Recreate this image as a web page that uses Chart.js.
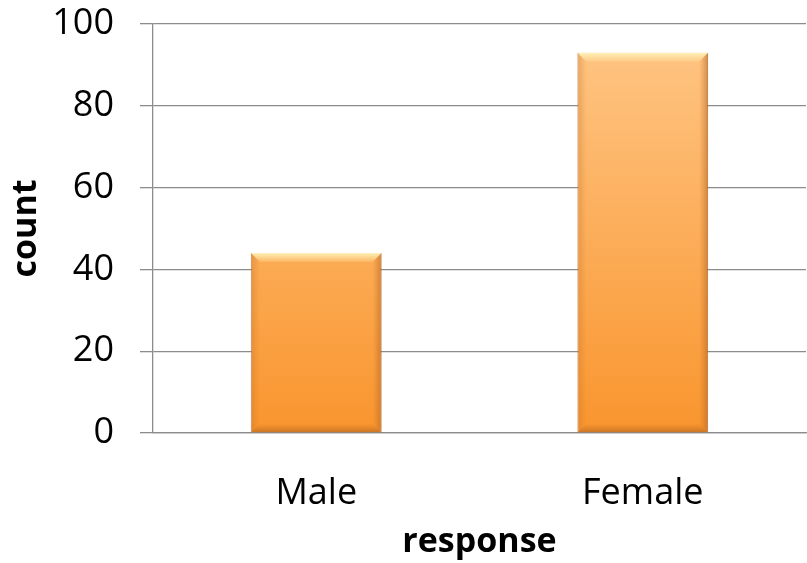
<!DOCTYPE html>
<html>
<head>
<meta charset="utf-8">
<script src="https://cdn.jsdelivr.net/npm/chart.js@4"></script>
<style>
  html, body { margin: 0; padding: 0; background: #fff; }
  #wrap { width: 807px; height: 563px; }
</style>
</head>
<body>
<div id="wrap"><canvas id="chart"></canvas></div>
<script>
// ─── Data ────────────────────────────────────────────────
const categories = ['Male', 'Female'];
const counts     = [44, 93];
const yTicks     = [0, 20, 40, 60, 80, 100];

const gridColor = '#8c8c8c';
const font = 'Open Sans';

// vertical orange gradient, light at top
function barFill(ctx) {
  const area = ctx.chart.chartArea;
  if (!area) return '#fdb062';
  const g = ctx.chart.ctx.createLinearGradient(0, area.top, 0, area.bottom);
  g.addColorStop(0, '#ffc787');
  g.addColorStop(1, '#f9952e');
  return g;
}

// ─── Bevel look on the bars ──────────────────────────────
const bevel = {
  id: 'bevel',
  afterDatasetsDraw(chart) {
    const c = chart.ctx;
    chart.getDatasetMeta(0).data.forEach(bar => {
      const l = bar.x - bar.width / 2, r = bar.x + bar.width / 2;
      const t = bar.y, b = bar.base, d = 9;
      c.save();
      // top highlight
      let g = c.createLinearGradient(0, t, 0, t + d);
      g.addColorStop(0, 'rgba(255,245,190,0.95)');
      g.addColorStop(1, 'rgba(255,235,170,0.2)');
      c.fillStyle = g;
      c.beginPath(); c.moveTo(l, t); c.lineTo(r, t); c.lineTo(r - d, t + d); c.lineTo(l + d, t + d); c.closePath(); c.fill();
      // right dark edge
      g = c.createLinearGradient(r, 0, r - d, 0);
      g.addColorStop(0, 'rgba(170,95,30,0.55)');
      g.addColorStop(1, 'rgba(200,110,30,0)');
      c.fillStyle = g;
      c.beginPath(); c.moveTo(r, t); c.lineTo(r, b); c.lineTo(r - d, b - d); c.lineTo(r - d, t + d); c.closePath(); c.fill();
      // left edge
      g = c.createLinearGradient(l, 0, l + d, 0);
      g.addColorStop(0, 'rgba(190,110,40,0.35)');
      g.addColorStop(1, 'rgba(200,110,30,0)');
      c.fillStyle = g;
      c.beginPath(); c.moveTo(l, t); c.lineTo(l, b); c.lineTo(l + d, b - d); c.lineTo(l + d, t + d); c.closePath(); c.fill();
      // bottom edge
      g = c.createLinearGradient(0, b, 0, b - d);
      g.addColorStop(0, 'rgba(160,90,30,0.55)');
      g.addColorStop(1, 'rgba(200,110,30,0)');
      c.fillStyle = g;
      c.beginPath(); c.moveTo(l, b); c.lineTo(r, b); c.lineTo(r - d, b - d); c.lineTo(l + d, b - d); c.closePath(); c.fill();
      c.restore();
    });
  }
};

new Chart(document.getElementById('chart'), {
  type: 'bar',
  data: {
    labels: categories,
    datasets: [{
      data: counts,
      backgroundColor: barFill,
      borderColor: 'rgba(200,120,50,0.6)',
      borderWidth: 1,
      categoryPercentage: 1,
      barPercentage: 0.4
    }]
  },
  options: {
    responsive: true, maintainAspectRatio: false, animation: false,
    layout: { padding: { top: 24, right: 1, left: 6, bottom: 0 } },
    plugins: { legend: { display: false }, tooltip: { enabled: false } },
    scales: {
      y: {
        min: 0, max: 100,
        afterBuildTicks: axis => { axis.ticks = yTicks.map(v => ({ value: v })); },
        afterFit: axis => { axis.width = 147; axis.paddingTop = 0; axis.paddingBottom = 0; },
        grid: { color: gridColor, lineWidth: 1.3, tickLength: 13 },
        border: { color: gridColor, width: 1.3 },
        ticks: { color: '#000', padding: 26, font: { family: font, size: 36 } },
        title: { display: true, text: 'count', color: '#000', padding: 0, font: { family: font, size: 34, weight: 'bold' } }
      },
      x: {
        afterFit: axis => { axis.height = 130; },
        grid: { display: false },
        border: { color: gridColor, width: 1.3 },
        ticks: { color: '#000', padding: 31, font: { family: font, size: 36 } },
        title: { display: true, text: 'response', color: '#000', padding: 0, font: { family: font, size: 34, weight: 'bold' } }
      }
    }
  },
  plugins: [bevel]
});
</script>
</body>
</html>
